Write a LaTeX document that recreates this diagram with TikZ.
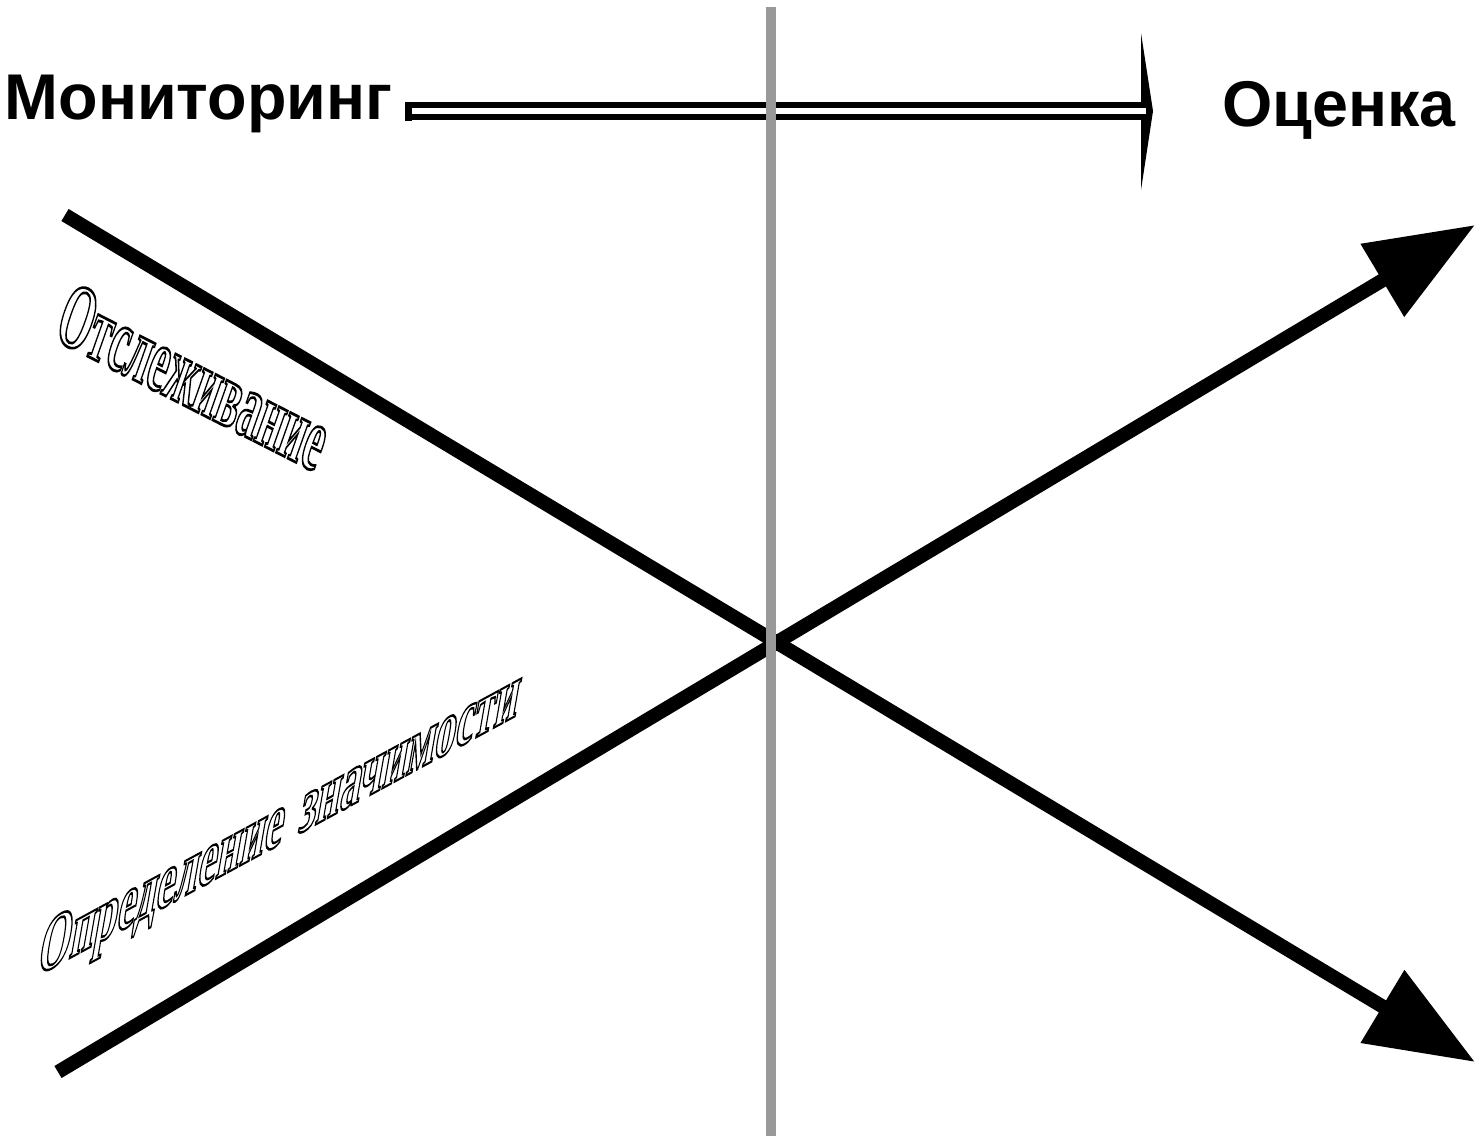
\documentclass[tikz,border=0pt]{standalone}
\usepackage{fontspec}
\usetikzlibrary{arrows.meta}
\newfontfamily\arialf{Liberation Sans}
\newfontfamily\timesf{Liberation Serif}
\definecolor{axisgray}{RGB}{153,153,153}
\newcommand\hollowtext[1]{\special{pdf:literal direct 1 Tr 0.3 w}#1\special{pdf:literal direct 0 Tr}}
\tikzset{
  heading/.style={font=\arialf\bfseries\fontsize{48.5}{51}\selectfont, inner sep=0pt, anchor=base west},
  bigline/.style={line width=10.5pt},
  bigarrow/.style={bigline, -{Triangle[length=81pt,width=61pt]}},
  axisline/.style={draw=axisgray, line width=8pt},
  wordart/.style={font=\timesf\bfseries\fontsize{10}{12}\selectfont, inner sep=0pt, anchor=base west, transform shape},
  twin/.style={draw=black, line width=4.9pt, double=white, double distance=4.1pt},
}
\begin{document}
\begin{tikzpicture}[x=0.75pt,y=-0.75pt]
\useasboundingbox (0,0) rectangle (1480,1139);
% headings
\node[heading] (mon) at (4.5,119) {Мониторинг};
\node[heading] (ots) at (1222,126) {Оценка};
% top double arrow
\coordinate (m1) at (405,111);
\coordinate (m2) at (1146,111);
\coordinate (h1) at (1141,33);
\coordinate (h2) at (1153,111);
\coordinate (h3) at (1141,190);
\fill (h1) -- (h2) -- (h3) -- cycle;
\draw[twin] (m1) -- (m2);
\fill (405,101.5) rectangle (412,120.5);
% crossing lines
\coordinate (a1) at (65,215);
\coordinate (a2) at (1475,1062);
\coordinate (b1) at (58,1072);
\coordinate (b2) at (1475,225);
\draw[bigarrow] (a1) -- (a2);
\draw[bigarrow] (b1) -- (b2);
% vertical axis
\coordinate (g1) at (771,7);
\coordinate (g2) at (771,1136);
\draw[axisline] (g1) -- (g2);
% word-art labels
\begin{scope}[shift={(52,338)}]
\node[wordart, cm={2.95,-1.503,2.291,6.5,(0,0)}] (track) at (0,0) {\hollowtext{Отслеживание}};
\end{scope}
\begin{scope}[shift={(35,977)}]
\node[wordart, cm={3.12,1.695,1.08,6.2,(0,0)}] (signif) at (0,0) {\hollowtext{Определение\hspace{0.15em} значимости}};
\end{scope}
\end{tikzpicture}
\end{document}
